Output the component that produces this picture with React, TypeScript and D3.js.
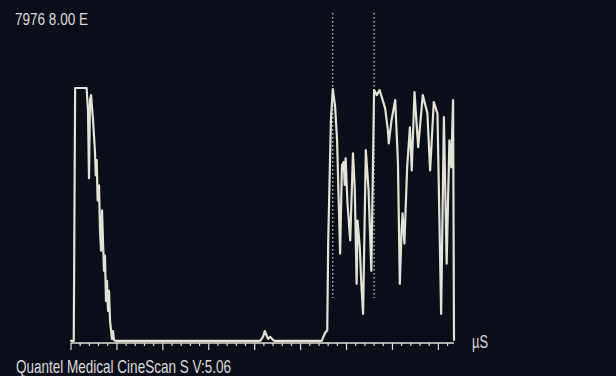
import React from "react";
import * as d3 from "d3";

const W = 616;
const H = 376;

// A-scan trace: time (µs, minor-tick units) and amplitude (%)
const traceTime = [
  0, 0.3, 0.45, 1.7, 1.85, 1.96, 2.07, 2.18, 2.4, 2.6, 2.7, 2.8, 2.9, 3.05, 3.16, 3.27, 3.38, 3.48, 3.59, 3.7,
  3.81, 3.92, 4.03, 4.14, 4.25, 4.46, 4.57, 4.68, 4.9, 20.6, 20.9, 21.1, 21.45, 21.7, 22.0, 22.2, 27.3, 27.65,
  27.9, 28.0, 28.3, 28.5, 28.75, 28.97, 29.3, 29.5, 29.7, 29.8, 29.9, 30.1, 30.4, 30.7, 30.9, 31.1, 31.2, 31.45,
  31.6, 31.8, 32.1, 32.4, 32.7, 33.0,
  33.3, 33.6, 34.2, 34.5, 34.6, 34.9, 35.3, 35.6, 35.8, 36.0, 36.1, 36.3, 36.6, 36.9, 37.1, 37.4, 37.8, 38.3, 38.8,
  39.1, 39.5, 39.9, 40.3, 40.6, 40.9, 41.2, 41.4, 41.6, 41.7,
];
const traceAmp = [
  0.8, 0.8, 100, 100, 91, 64.6, 95.3, 97.2, 87.4, 75.6, 65.7, 71.7, 55.9, 61.8, 44.1, 36.2, 52, 40.2, 28.3, 34.3,
  16.5, 24.4, 12.6, 20.5, 8.7, 1.6, 4.7, 1.2, 0.8, 0.8, 2.4, 4.7, 1.6, 2.4, 1.2, 0.8, 0.8, 3.9,
  5, 39, 87.4, 99.6, 93, 79.5, 35, 69.7, 71, 62, 72.4, 55, 40.2, 74.4, 60, 23.2, 48, 37,
  24, 11.4, 75.6, 59.8, 28.3, 99.2,
  97.2, 99.2, 92.1, 83.5, 78.3, 87.4, 95.3, 70.5, 23.2, 45, 50.8, 39, 68.9, 84.6, 67.7, 98.4, 76.8, 97.2, 90.2,
  67.7, 94.5, 90, 11.4, 88.6, 31.1, 79.5, 68.9, 95.3, 1.2,
];

// Gate cursors (µs)
const cursorTimes = [28.5, 33.0];
const cursorTop = 129.4;
const cursorBottom = 17.6;

const axisMax = 41.7;
const majorEvery = 5;

const headerText = "7976 8.00 E";
const footerText = "Quantel Medical CineScan S V:5.06";
const unitText = "µS";

export default function App() {
  const x = d3.scaleLinear().domain([0, axisMax]).range([71, 454]);
  const y = d3.scaleLinear().domain([0, 100]).range([343, 88]);

  const pts: [number, number][] = traceTime.map((t, i) => [t, traceAmp[i]]);
  const line = d3
    .line<[number, number]>()
    .x((d) => x(d[0]))
    .y((d) => y(d[1]));

  const ticks = d3.range(0, Math.floor(axisMax) + 1);
  const fg = "#e2e2d6";

  return (
    <svg
      width={W}
      height={H}
      style={{ position: "absolute", left: 0, top: 0, display: "block" }}
    >
      <rect x={0} y={0} width={W} height={H} fill="#0a0e18" />
      {cursorTimes.map((t, i) => (
        <line
          key={i}
          x1={x(t)}
          x2={x(t)}
          y1={y(cursorTop)}
          y2={y(cursorBottom)}
          stroke="#c8c8c0"
          strokeWidth={1.3}
          strokeDasharray="1.4 2.6"
        />
      ))}
      <line x1={x(0)} x2={x(axisMax)} y1={y(0)} y2={y(0)} stroke={fg} strokeWidth={1.6} />
      {ticks.map((t) => (
        <line
          key={t}
          x1={x(t)}
          x2={x(t)}
          y1={y(0)}
          y2={y(0) + (t % majorEvery === 0 ? 7 : 3)}
          stroke={fg}
          strokeWidth={1.2}
        />
      ))}
      <path
        d={line(pts) || ""}
        fill="none"
        stroke={fg}
        strokeWidth={2.2}
        strokeLinejoin="round"
        strokeLinecap="round"
      />
      <text
        x={15}
        y={25}
        fill="#dcdcdc"
        fontFamily="Liberation Sans, Arial, sans-serif"
        fontSize={16}
        textLength={73}
        lengthAdjust="spacingAndGlyphs"
      >
        {headerText}
      </text>
      <text
        x={16}
        y={373}
        fill="#dcdcdc"
        fontFamily="Liberation Sans, Arial, sans-serif"
        fontSize={18.5}
        textLength={215}
        lengthAdjust="spacingAndGlyphs"
      >
        {footerText}
      </text>
      <text
        x={472}
        y={348}
        fill="#dcdcdc"
        fontFamily="Liberation Sans, Arial, sans-serif"
        fontSize={18}
        textLength={16}
        lengthAdjust="spacingAndGlyphs"
      >
        {unitText}
      </text>
    </svg>
  );
}
